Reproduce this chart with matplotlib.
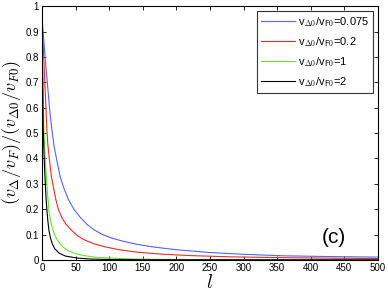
import matplotlib
matplotlib.use("Agg")
import matplotlib.pyplot as plt

# curves
l_blue = [0, 3, 6, 9, 12, 15, 18, 22, 27, 33, 40, 48, 57, 67, 78, 90, 105, 120, 140, 165,
          200, 250, 300, 360, 430, 500]
y_blue = [0.96, 0.86, 0.76, 0.67, 0.58, 0.51, 0.45, 0.395, 0.33, 0.28, 0.235, 0.198, 0.168,
          0.14, 0.118, 0.1, 0.085, 0.074, 0.062, 0.051, 0.04, 0.029, 0.022, 0.016, 0.013, 0.011]

l_red = [0, 2, 4, 6, 7.4, 9, 11.4, 14, 17.9, 21, 24.8, 30, 36, 43.7, 52, 63, 77, 93, 115,
         140, 175, 220, 280, 350, 420, 500]
y_red = [0.96, 0.84, 0.72, 0.6, 0.51, 0.45, 0.39, 0.33, 0.276, 0.235, 0.197, 0.165, 0.14,
         0.118, 0.097, 0.079, 0.064, 0.052, 0.04, 0.031, 0.023, 0.017, 0.012, 0.009, 0.007, 0.005]

l_green = [0, 1, 2, 3, 4, 5, 6.5, 8, 9.2, 10.4, 12.5, 14.5, 16.4, 20, 26, 33, 40, 48.6, 60,
           78, 100, 130, 170, 250, 500]
y_green = [0.96, 0.8, 0.65, 0.51, 0.45, 0.394, 0.33, 0.276, 0.235, 0.197, 0.16, 0.135, 0.118,
           0.092, 0.066, 0.047, 0.035, 0.026, 0.018, 0.011, 0.007, 0.004, 0.002, 0.001, 0.0]

l_black = [0, 1, 2, 2.7, 3.5, 4.5, 5.5, 6.4, 7.4, 8.8, 10.4, 12.5, 15, 19, 26, 35, 53, 75,
           100, 150, 500]
y_black = [0.95, 0.72, 0.51, 0.45, 0.394, 0.33, 0.276, 0.235, 0.197, 0.155, 0.118, 0.09, 0.066,
           0.044, 0.026, 0.015, 0.007, 0.003, 0.0015, 0.0005, 0.0]

labels = ["0.075", "0.2", "1", "2"]
colors = ["#5064ff", "#f02828", "#64e628", "black"]

plt.rcParams["font.family"] = ["Liberation Sans", "DejaVu Sans"]
plt.rcParams["mathtext.fontset"] = "cm"

fig = plt.figure(figsize=(3.88, 2.92), dpi=100)
ax = fig.add_axes([0.108, 0.110, 0.866, 0.869])

series = [(l_blue, y_blue), (l_red, y_red), (l_green, y_green), (l_black, y_black)]
for (x, y), lab, c in zip(series, labels, colors):
    ax.plot(x, y, color=c, linewidth=0.8,
            label=r"v$_{\mathsf{\Delta0}}$/v$_{\mathsf{F0}}$=" + lab)

ax.set_xlim(0, 500)
ax.set_ylim(0, 1)
ax.set_xticks(range(0, 501, 50))
ax.set_yticks([0, 0.1, 0.2, 0.3, 0.4, 0.5, 0.6, 0.7, 0.8, 0.9, 1])
ax.set_yticklabels(["0", "0.1", "0.2", "0.3", "0.4", "0.5", "0.6", "0.7", "0.8", "0.9", "1"])
ax.tick_params(direction="in", top=True, right=True, labelsize=7, length=3, width=0.6, pad=2)
for s in ax.spines.values():
    s.set_linewidth(0.8)

ax.set_xlabel(r"$l$", fontsize=14, labelpad=1)
ax.set_ylabel(r"$(v_\Delta/v_F)/(v_{\Delta0}/v_{F0})$", fontsize=13, labelpad=2)

ax.text(435, 0.09, "(c)", fontsize=15, ha="center", va="center")

leg = ax.legend(loc="upper right", fontsize=8, handlelength=3, frameon=True,
                fancybox=False, borderaxespad=0.4, labelspacing=0.55, handletextpad=0.3,
                borderpad=0.4)
leg.get_frame().set_edgecolor("black")
leg.get_frame().set_linewidth(0.8)

fig.savefig("out.png", dpi=100)
